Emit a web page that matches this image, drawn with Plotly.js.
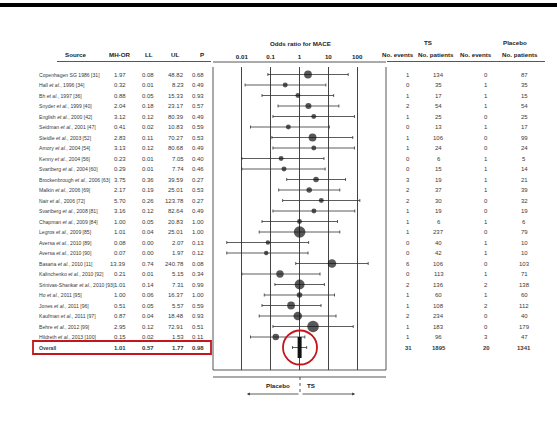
<!DOCTYPE html>
<html>
<head>
<meta charset="utf-8">
<script src="https://cdn.plot.ly/plotly-3.0.1.min.js"></script>
<style>html,body{margin:0;padding:0;background:#fff;}#chart{width:557px;height:429px;}</style>
</head>
<body>
<div id="chart"></div>
<script>
// ---------- data ----------
const sources = [
  "Copenhagen SG 1986 [31]", "Hall et al., 1996 [34]", "Bh et al., 1997 [36]",
  "Snyder et al., 1999 [40]", "English et al., 2000 [42]", "Seidman et al., 2001 [47]",
  "Steidle et al., 2003 [52]", "Amory et al., 2004 [54]", "Kenny et al., 2004 [56]",
  "Svartberg et al., 2004 [60]", "Brockenbrough et al., 2006 [63]", "Malkin et al., 2006 [69]",
  "Nair et al., 2006 [72]", "Svartberg et al., 2008 [81]", "Chapman et al., 2009 [84]",
  "Legros et al., 2009 [85]", "Aversa et al., 2010 [89]", "Aversa et al., 2010 [90]",
  "Basaria et al., 2010 [11]", "Kalinchenko et al., 2010 [92]", "Srinivas-Shankar et al., 2010 [93]",
  "Ho et al., 2011 [95]", "Jones et al., 2011 [96]", "Kaufman et al., 2011 [97]",
  "Behre et al., 2012 [99]", "Hildreth et al., 2013 [100]", "Overall"
];
const mhOR = [1.97,0.32,0.88,2.04,3.12,0.41,2.83,3.13,0.23,0.29,3.75,2.17,5.70,3.16,1.00,1.01,0.08,0.07,13.39,0.21,1.01,1.00,0.51,0.87,2.95,0.15,1.01];
const lowerCI = [0.08,0.013,0.05,0.18,0.12,0.02,0.11,0.12,0.01,0.01,0.36,0.19,0.26,0.12,0.05,0.04,0.003,0.003,0.74,0.01,0.14,0.06,0.05,0.04,0.12,0.02,0.57];
const upperCI = [48.82,8.23,15.33,23.17,80.39,10.83,70.27,80.68,7.05,7.74,39.59,25.01,123.78,82.64,20.83,25.01,2.07,1.97,240.78,5.15,7.31,16.37,5.57,18.48,72.91,1.53,1.77];
const pValues = [0.68,0.49,0.93,0.57,0.49,0.59,0.53,0.49,0.40,0.46,0.27,0.53,0.27,0.49,1.00,1.00,0.13,0.12,0.08,0.34,0.99,1.00,0.59,0.93,0.51,0.11,0.98];
const tsEvents = [1,0,1,2,1,0,1,1,0,0,3,2,2,1,1,1,0,0,6,0,2,1,1,2,1,1,31];
const tsPatients = [134,35,17,54,25,13,106,24,6,15,19,37,30,19,6,237,40,42,106,113,136,60,108,234,183,96,1895];
const plEvents = [0,1,1,1,0,1,0,0,1,1,1,1,0,0,1,0,1,1,0,1,2,1,2,0,0,3,20];
const plPatients = [87,35,15,54,25,17,99,24,5,14,21,39,32,19,6,79,10,10,103,71,138,60,112,40,179,47,1341];
const studyWeights = [5,2,2,3,2,2,5,2,2,2,2.5,2.5,2,2,2,11,1.6,1.6,6,4.5,8,2.5,5,6,11,3.5];
const axisTicks = [0.01,0.1,1,10,100];
const axisTickText = ["0.01","0.1","1","10","100"];

// ---------- geometry ----------
const W = 557, H = 429;
const rowTop = 74.5, rowStep = 10.5;
const boxL = 213, boxR = 386, boxT = 67, boxB = 370;
const px = v => v / W;
const py = v => 1 - v / H;
const nStudy = sources.length - 1;
const iOverall = nStudy;

const font = "Liberation Sans, Arial, sans-serif";
const txtColor = "#3a3a3a";
const fs = 6;

const idx = sources.map((_, i) => i);
const studyIdx = idx.slice(0, nStudy);

const traces = [
  {
    type: "scatter", mode: "markers",
    x: studyIdx.map(i => mhOR[i]), y: studyIdx,
    marker: { color: "#111", size: studyIdx.map(i => 3.5 * Math.sqrt(studyWeights[i])), line: { width: 0 } },
    error_x: {
      type: "data", symmetric: false,
      array: studyIdx.map(i => upperCI[i] - mhOR[i]),
      arrayminus: studyIdx.map(i => mhOR[i] - lowerCI[i]),
      color: "#333", thickness: 0.8, width: 1.5
    },
    hoverinfo: "skip", cliponaxis: false
  },
  {
    type: "scatter", mode: "markers",
    x: [mhOR[iOverall]], y: [iOverall],
    marker: { symbol: "line-ns-open", size: 15, color: "#111", line: { width: 4, color: "#111" } },
    error_x: {
      type: "data", symmetric: false,
      array: [upperCI[iOverall] - mhOR[iOverall]],
      arrayminus: [mhOR[iOverall] - lowerCI[iOverall]],
      color: "#333", thickness: 0.8, width: 1.5
    },
    hoverinfo: "skip", cliponaxis: false
  }
];

const ann = [];
function A(o) { ann.push(Object.assign({ showarrow: false, font: { family: font, size: fs, color: txtColor } }, o)); }
const fmtName = s => s.replace("et al.", "<i>et al.</i>");

idx.forEach(i => {
  const bold = i === iOverall;
  const b = t => bold ? "<b>" + t + "</b>" : t;
  A({ xref: "paper", yref: "y", x: px(37), y: i, xanchor: "left", text: b(fmtName(sources[i])), font: { family: font, size: 5.1, color: txtColor } });
  A({ xref: "paper", yref: "y", x: px(128), y: i, xanchor: "right", text: b(mhOR[i].toFixed(2)) });
  A({ xref: "paper", yref: "y", x: px(156), y: i, xanchor: "right", text: b(lowerCI[i].toFixed(2)) });
  A({ xref: "paper", yref: "y", x: px(186), y: i, xanchor: "right", text: b(upperCI[i].toFixed(2)) });
  A({ xref: "paper", yref: "y", x: px(206), y: i, xanchor: "right", text: b(pValues[i].toFixed(2)) });
  A({ xref: "paper", yref: "y", x: px(408), y: i, xanchor: "center", text: b(String(tsEvents[i])) });
  A({ xref: "paper", yref: "y", x: px(439), y: i, xanchor: "center", text: b(String(tsPatients[i])) });
  A({ xref: "paper", yref: "y", x: px(486), y: i, xanchor: "center", text: b(String(plEvents[i])) });
  A({ xref: "paper", yref: "y", x: px(524), y: i, xanchor: "center", text: b(String(plPatients[i])) });
});

const hf = { family: font, size: 6.2, color: "#222" };
const H2 = (x, y, t, anchor) => A({ xref: "paper", yref: "paper", x: px(x), y: py(y), xanchor: anchor || "center", yanchor: "middle", text: "<b>" + t + "</b>", font: hf });
H2(76, 55, "Source");
H2(119, 55, "MH-OR");
H2(149, 55, "LL");
H2(175, 55, "UL");
H2(202, 55, "P");
H2(300, 43, "Odds ratio for MACE");
H2(428, 42, "TS");
H2(515, 42, "Placebo");
H2(398, 55, "No. events");
H2(436, 55, "No. patients");
H2(476, 55, "No. events");
H2(520, 55, "No. patients");
H2(292, 385, "Placebo", "right");
H2(305, 385, "TS", "left");

ann.push({ xref: "paper", yref: "paper", x: px(247), y: py(394), ax: 53, ay: 0, text: "", showarrow: true, arrowhead: 2, arrowsize: 0.7, arrowwidth: 0.8, arrowcolor: "#333" });
ann.push({ xref: "paper", yref: "paper", x: px(355), y: py(394), ax: -54, ay: 0, text: "", showarrow: true, arrowhead: 2, arrowsize: 0.7, arrowwidth: 0.8, arrowcolor: "#333" });

const L = (x0, y0, x1, y1, extra) => Object.assign({ type: "line", xref: "paper", yref: "paper", x0: px(x0), y0: py(y0), x1: px(x1), y1: py(y1), line: { color: "#444", width: 0.9 } }, extra || {});
const ovY = rowTop + rowStep * iOverall;
const shapes = [
  { type: "rect", xref: "paper", yref: "paper", x0: 0, x1: 1, y0: py(7), y1: py(3), fillcolor: "#000", line: { width: 0 } },
  L(57, 61.5, 211, 61.5),
  L(213, 62, 386, 62),
  L(387, 61.5, 545, 61.5),
  L(boxL, boxT, boxL, boxB),
  L(boxR, boxT, boxR, boxB),
  L(boxL, boxB, boxR, boxB),
  L(boxL, 377, boxR, 377),
  L(300, 377, 300, 394, { line: { color: "#444", width: 0.9, dash: "dot" } }),
  { type: "rect", xref: "paper", yref: "paper", x0: px(33), x1: px(211), y0: py(ovY + 6.5), y1: py(ovY - 6.5), line: { color: "#c4161c", width: 1.8 }, fillcolor: "rgba(0,0,0,0)" },
  { type: "circle", xref: "paper", yref: "paper", x0: px(300 - 17), x1: px(300 + 17), y0: py(ovY + 17), y1: py(ovY - 17), line: { color: "#c4161c", width: 1.8 } }
];

const yTopVal = (boxT - rowTop) / rowStep;
const yBotVal = (boxB - rowTop) / rowStep;

const layout = {
  width: W, height: H,
  margin: { l: 0, r: 0, t: 0, b: 0 },
  paper_bgcolor: "#fff", plot_bgcolor: "rgba(0,0,0,0)",
  showlegend: false,
  xaxis: {
    type: "log", range: [-3, 3], domain: [px(boxL), px(boxR)],
    tickvals: axisTicks, ticktext: axisTickText,
    side: "top", ticks: "", ticklabelstandoff: 6,
    tickfont: { family: font, size: 6.2, color: "#222", weight: "bold" },
    showgrid: true, gridcolor: "#444", gridwidth: 1,
    zeroline: false, showline: false, fixedrange: true
  },
  yaxis: {
    range: [yBotVal, yTopVal], domain: [py(boxB), py(boxT)],
    visible: false, showgrid: false, zeroline: false, fixedrange: true
  },
  annotations: ann,
  shapes: shapes
};

Plotly.newPlot("chart", traces, layout, { staticPlot: true, displayModeBar: false });
</script>
</body>
</html>
